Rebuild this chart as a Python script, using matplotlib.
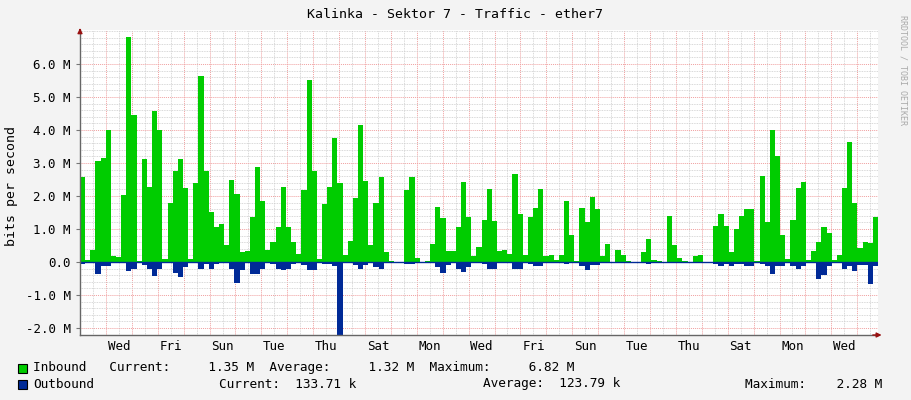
import numpy as np
import matplotlib
matplotlib.use("Agg")
import matplotlib.pyplot as plt
from matplotlib.ticker import MultipleLocator, FixedLocator
import matplotlib.transforms as mtrans

title = "Kalinka - Sektor 7 - Traffic - ether7"
day_labels = ["Wed", "Fri", "Sun", "Tue", "Thu", "Sat", "Mon", "Wed", "Fri", "Sun", "Tue", "Thu", "Sat", "Mon", "Wed"]

inbound = [2.58, 0.07, 0.35, 3.05, 3.15, 4.0, 0.18, 0.15, 2.03, 6.82,
           4.45, 0.03, 3.12, 2.28, 4.58, 4.0, 0.1, 1.8, 2.75, 3.12,
           2.25, 0.1, 2.38, 5.65, 2.75, 1.53, 1.05, 1.15, 0.53, 2.5,
           2.05, 0.3, 0.33, 1.35, 2.87, 1.85, 0.35, 0.6, 1.06, 2.27,
           1.07, 0.62, 0.25, 2.18, 5.52, 2.77, 0.1, 1.77, 2.28, 3.77,
           2.4,
           0.2, 0.65, 1.95, 4.15, 2.45, 0.53, 1.8, 2.57, 0.3, 0.02,
           0, 0, 2.17, 2.57, 0.13, 0, 0.03, 0.55, 1.67, 1.32,
           0.32, 0.33, 1.05, 2.43, 1.37, 0.17, 0.45, 1.27, 2.22, 1.25,
           0.32, 0.37, 0.25, 2.67, 1.47, 0.2, 1.35, 1.65, 2.2, 0.18,
           0.22, 0.07, 0.22, 1.85, 0.83, 0.03, 1.65, 1.2, 1.98, 1.6,
           0.17, 0.55, 0.0,
           0.37, 0.22, 0.03, 0, 0, 0.3, 0.7, 0.07, 0.03, 0,
           1.4, 0.53, 0.13, 0.03, 0, 0.17, 0.22, 0, 0, 1.1,
           1.47, 1.1, 0.3, 1.0, 1.38, 1.62, 1.6, 0.03, 2.6, 1.22,
           4.0, 3.2, 0.83, 0.1, 1.28, 2.25, 2.42, 0.07, 0.32, 0.62,
           1.05, 0.88, 0.07, 0.2, 2.24, 3.65, 1.8, 0.44, 0.6, 0.58,
           1.35]

outbound = [-0.05, -0.03, -0.03, -0.37, -0.13, -0.13, -0.03, -0.03, -0.03, -0.28,
            -0.2, -0.03, -0.08, -0.2, -0.42, -0.2, -0.03, -0.03, -0.33, -0.45,
            -0.15, -0.03, -0.03, -0.2, -0.05, -0.2, -0.05, -0.03, -0.03, -0.2,
            -0.63, -0.25, -0.03, -0.37, -0.37, -0.2, -0.03, -0.05, -0.2, -0.25,
            -0.2, -0.05, -0.03, -0.1, -0.25, -0.25, -0.03, -0.07, -0.07, -0.13,
            -2.28,
            -0.03, -0.03, -0.1, -0.2, -0.1, -0.03, -0.15, -0.2, -0.03, -0.02,
            -0.01, -0.01, -0.05, -0.05, -0.02, -0.01, -0.02, -0.03, -0.15, -0.32,
            -0.1, -0.03, -0.2, -0.3, -0.15, -0.03, -0.03, -0.05, -0.2, -0.2,
            -0.03, -0.03, -0.03, -0.22, -0.22, -0.03, -0.05, -0.12, -0.12, -0.03,
            -0.03, -0.02, -0.03, -0.05, -0.03, -0.02, -0.12, -0.25, -0.1, -0.1,
            -0.03, -0.03, -0.01,
            -0.03, -0.02, -0.01, -0.01, -0.01, -0.01, -0.07, -0.01, -0.01, -0.01,
            -0.03, -0.03, -0.01, -0.01, -0.01, -0.01, -0.01, -0.01, -0.01, -0.07,
            -0.12, -0.07, -0.12, -0.07, -0.07, -0.12, -0.12, -0.02, -0.07, -0.12,
            -0.35, -0.12, -0.12, -0.03, -0.12, -0.22, -0.12, -0.02, -0.03, -0.5,
            -0.4, -0.12, -0.03, -0.03, -0.22, -0.12, -0.28, -0.1, -0.1, -0.68,
            -0.13]

span_days = 30.8
n = len(inbound)
edges = np.linspace(0, span_days, n + 1)

plt.rcParams['font.family'] = "DejaVu Sans Mono"

fig = plt.figure(figsize=(9.11, 4.0), dpi=100, facecolor="#F3F3F3")
ax = fig.add_axes([80/911, 65/400, 798/911, 305/400])
ax.set_facecolor("white")

ax.stairs(inbound, edges, fill=True, color="#00CC00", baseline=0)
ax.stairs(outbound, edges, fill=True, color="#002A97", baseline=0)
ax.axhline(0, color="#002A97", lw=1)

ax.set_xlim(0, span_days)
ax.set_ylim(-2.21, 7.03)

ax.xaxis.set_major_locator(FixedLocator(np.arange(1, 31, 1)))
ax.xaxis.set_minor_locator(FixedLocator(np.arange(0.5, 31, 1)))
ax.yaxis.set_major_locator(MultipleLocator(1.0))
ax.yaxis.set_minor_locator(MultipleLocator(0.2))
ax.grid(which="minor", color="#CCCCCC", ls=(0, (1, 1)), lw=0.6)
ax.grid(which="major", color="#F0A0A0", ls=(0, (1, 1)), lw=0.7)
ax.set_axisbelow(True)
ax.tick_params(axis="x", which="both", length=0, labelbottom=False)
ax.tick_params(axis="y", which="major", length=3, color="#777777", labelsize=9)
ax.tick_params(axis="y", which="minor", length=0)

def fmt(v):
    return "0.0" if abs(v) < 1e-9 else f"{v:.1f} M"
yt = np.arange(-2, 7, 1.0)
ax.set_yticks(yt)
ax.set_yticklabels([fmt(v) for v in yt])

lab_tr = mtrans.offset_copy(ax.transData, fig=fig, y=-5, units="dots")
for i, lab in enumerate(day_labels):
    ax.text(1.5 + 2 * i, -2.21, lab, ha="center", va="top", fontsize=9,
            transform=lab_tr)

for s in ["top", "right"]:
    ax.spines[s].set_visible(False)
for s in ["left", "bottom"]:
    ax.spines[s].set_color("#666666")
    ax.spines[s].set_linewidth(1)
ax.annotate("", xy=(1.008, 0), xycoords="axes fraction", xytext=(0.99, 0),
            arrowprops=dict(arrowstyle="-|>", color="#991111", lw=1, mutation_scale=7))
ax.annotate("", xy=(0, 1.015), xycoords="axes fraction", xytext=(0, 0.99),
            arrowprops=dict(arrowstyle="-|>", color="#991111", lw=1, mutation_scale=7))

fig.text(12/911, 1 - 186/400, "bits per second", rotation=90, ha="center", va="center", fontsize=9.5)

fig.text(455/911, 1 - 14/400, title, ha="center", va="center", fontsize=9.5)
fig.text(903/911, 1 - 70/400, "RRDTOOL / TOBI OETIKER", rotation=270, ha="center",
         va="center", fontsize=6, color="#AAAAAA")

def sq(x, y, c):
    fig.patches.append(plt.Rectangle((x/911, 1 - (y + 5)/400), 9/911, 9/400,
                                     transform=fig.transFigure, facecolor=c,
                                     edgecolor="black", lw=0.8, figure=fig))
sq(18, 368, "#00CC00")
sq(18, 384, "#002A97")
fs = 9.2
fig.text(33/911, 1 - 368/400, "Inbound   Current:     1.35 M  Average:     1.32 M  Maximum:     6.82 M",
         ha="left", va="center", fontsize=fs)
fig.text(33/911, 1 - 384/400, "Outbound", ha="left", va="center", fontsize=fs)
fig.text(219/911, 1 - 384/400, "Current:  133.71 k", ha="left", va="center", fontsize=fs)
fig.text(483/911, 1 - 384/400, "Average:  123.79 k", ha="left", va="center", fontsize=fs)
fig.text(745/911, 1 - 384/400, "Maximum:    2.28 M", ha="left", va="center", fontsize=fs)

fig.savefig("out.png", dpi=100, facecolor=fig.get_facecolor())
